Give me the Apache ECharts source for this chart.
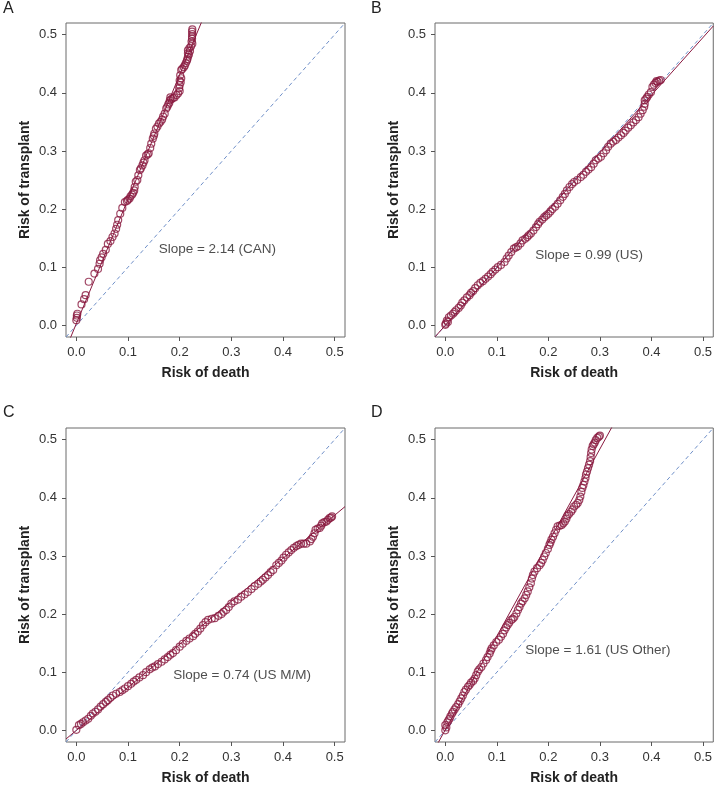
<!DOCTYPE html>
<html><head><meta charset="utf-8">
<script src="https://cdn.jsdelivr.net/npm/echarts@6/dist/echarts.min.js"></script>
<style>html,body{margin:0;padding:0;background:#fff}#c{width:715px;height:786px}</style>
</head><body><div id="c"></div>
<script>
// ---- data (risk of death, risk of transplant) ----
const panelLetters = ['A','B','C','D'];
const slopeLabels = ['Slope = 2.14 (CAN)','Slope = 0.99 (US)','Slope = 0.74 (US M/M)','Slope = 1.61 (US Other)'];
const fitSlopes = [2.14, 0.99, 0.74, 1.61];
const fitIntercepts = [0.003, 0.0, 0.0, 0.001];
const labelPos = [[0.273,0.131],[0.279,0.12],[0.321,0.095],[0.296,0.138]];
const tickValues = [0, 0.1, 0.2, 0.3, 0.4, 0.5];

const pointsA = [[0,0.009],[0.001,0.013],[0.001,0.017],[0.002,0.02],[0.01,0.036],[0.015,0.045],[0.018,0.052],[0.024,0.075],
[0.035,0.089],[0.042,0.097],[0.045,0.106],[0.046,0.112],[0.049,0.117],[0.052,0.123],[0.057,0.13],[0.061,0.14],[0.066,0.145],
[0.07,0.152],[0.074,0.158],[0.077,0.166],[0.079,0.173],[0.081,0.181],[0.085,0.192],[0.089,0.202],[0.094,0.212],[0.098,0.214],[0.1,0.216],
[0.103,0.218],[0.105,0.222],[0.108,0.225],[0.11,0.228],[0.112,0.232],[0.113,0.238],[0.115,0.247],[0.118,0.25],[0.12,0.258],[0.123,0.267],
[0.125,0.27],[0.128,0.275],[0.13,0.28],[0.132,0.284],[0.135,0.292],[0.138,0.294],[0.14,0.296],[0.143,0.305],
[0.145,0.3125],[0.148,0.321],[0.15,0.326],[0.151,0.33],[0.154,0.338],[0.157,0.342],[0.16,0.347],[0.163,0.35],[0.166,0.354],[0.168,0.359],
[0.171,0.364],[0.174,0.373],[0.176,0.376],[0.178,0.38],[0.18,0.383],[0.181,0.387],[0.182,0.392],[0.184,0.389],
[0.187,0.391],[0.19,0.392],[0.194,0.396],[0.197,0.399],[0.2,0.403],[0.199,0.408],[0.2,0.413],[0.202,0.418],[0.2,0.421],[0.203,0.425],[0.201,0.43],
[0.203,0.439],[0.205,0.441],[0.208,0.444],[0.21,0.447],[0.212,0.451],[0.214,0.455],[0.215,0.458],
[0.216,0.462],[0.218,0.466],[0.216,0.468],[0.22,0.472],[0.216,0.473],[0.219,0.477],[0.222,0.48],[0.2245,0.4845],[0.223,0.488],[0.224,0.493],
[0.224,0.497],[0.2245,0.501],[0.224,0.505],[0.2245,0.509]];

const pointsB = [[0,0.001],[0.001,0.003],[0.003,0.008],[0.005,0.006],[0.007,0.014],[0.011,0.017],[0.015,0.02],[0.018,0.023],[0.021,0.026],
[0.026,0.03],[0.03,0.034],[0.033,0.039],[0.037,0.043],[0.042,0.048],[0.047,0.052],[0.05,0.056],
[0.054,0.059],[0.058,0.064],[0.063,0.069],[0.068,0.073],[0.073,0.076],[0.078,0.08],[0.083,0.084],[0.088,0.088],[0.092,0.092],[0.097,0.096],
[0.102,0.1],[0.108,0.104],[0.115,0.109],[0.119,0.115],[0.123,0.12],[0.128,0.126],[0.133,0.132],[0.137,0.134],[0.141,0.136],[0.146,0.141],
[0.15,0.146],[0.155,0.149],[0.159,0.152],[0.162,0.155],[0.166,0.158],[0.171,0.163],[0.176,0.169],[0.18,0.174],[0.183,0.178],[0.188,0.182],
[0.192,0.186],[0.196,0.189],[0.2,0.192],[0.204,0.196],[0.208,0.2],[0.213,0.204],[0.218,0.209],[0.223,0.215],[0.228,0.221],
[0.232,0.226],[0.236,0.232],[0.241,0.238],[0.246,0.243],[0.25,0.2466],[0.256,0.25],[0.263,0.255],[0.268,0.259],[0.273,0.264],[0.278,0.268],
[0.283,0.272],[0.288,0.278],[0.292,0.284],[0.297,0.287],[0.302,0.29],[0.307,0.296],[0.312,0.301],[0.316,0.307],[0.321,0.3125],[0.326,0.316],
[0.331,0.319],[0.336,0.323],[0.341,0.327],[0.346,0.331],[0.35,0.335],[0.355,0.34],[0.36,0.344],[0.365,0.349],[0.37,0.353],[0.375,0.358],
[0.379,0.364],[0.383,0.37],[0.386,0.376],[0.387,0.381],[0.387,0.387],[0.39,0.39],[0.392,0.393],[0.395,0.397],
[0.399,0.401],[0.402,0.41],[0.405,0.414],[0.408,0.417],[0.41,0.42],[0.412,0.419],[0.415,0.421],[0.418,0.422]];

const pointsC = [[0,0.001],[0.005,0.009],[0.009,0.011],[0.013,0.014],[0.018,0.017],[0.023,0.02],[0.028,0.025],[0.032,0.029],[0.037,0.032],
[0.042,0.036],[0.047,0.041],[0.052,0.045],[0.057,0.049],[0.061,0.052],[0.066,0.056],[0.071,0.06],[0.077,0.063],
[0.084,0.066],[0.089,0.069],[0.094,0.072],[0.1,0.076],[0.106,0.08],[0.111,0.084],[0.116,0.087],[0.122,0.091],[0.129,0.095],[0.135,0.1],
[0.142,0.105],[0.147,0.108],[0.152,0.11],[0.158,0.114],[0.165,0.118],[0.171,0.122],[0.177,0.126],[0.182,0.13],[0.187,0.133],[0.193,0.138],
[0.2,0.144],[0.206,0.149],[0.213,0.154],[0.219,0.158],[0.226,0.162],[0.23,0.166],[0.235,0.17],[0.24,0.175],[0.245,0.181],[0.25,0.186],
[0.255,0.19],[0.262,0.192],[0.268,0.193],[0.275,0.197],[0.281,0.2],[0.285,0.204],[0.29,0.207],[0.295,0.212],[0.3,0.218],[0.306,0.222],
[0.313,0.225],[0.319,0.23],[0.326,0.234],[0.332,0.238],[0.339,0.243],[0.345,0.248],[0.352,0.252],[0.357,0.256],[0.361,0.259],[0.366,0.263],
[0.371,0.267],[0.376,0.272],[0.381,0.276],[0.387,0.284],[0.392,0.288],[0.397,0.292],[0.401,0.297],[0.406,0.302],
[0.411,0.306],[0.416,0.31],[0.421,0.314],[0.426,0.317],[0.43,0.319],[0.435,0.321],[0.44,0.321],[0.445,0.321],[0.452,0.325],[0.455,0.329],
[0.458,0.333],[0.461,0.339],[0.463,0.345],[0.467,0.347],[0.471,0.348],[0.474,0.352],[0.476,0.356],[0.48,0.358],[0.484,0.359],
[0.487,0.362],[0.49,0.365],[0.493,0.366],[0.495,0.368]];

const pointsD = [[0,0],[0.002,0.005],[0,0.009],[0.004,0.014],[0.006,0.017],[0.008,0.02],[0.01,0.024],[0.013,0.029],[0.015,0.032],[0.018,0.036],
[0.021,0.04],[0.025,0.045],[0.028,0.05],[0.031,0.055],[0.034,0.06],[0.037,0.066],[0.04,0.07],
[0.044,0.075],[0.047,0.078],[0.05,0.082],[0.054,0.085],[0.057,0.089],[0.06,0.095],[0.063,0.101],[0.066,0.105],[0.07,0.109],[0.074,0.115],
[0.079,0.121],[0.082,0.126],[0.086,0.132],[0.088,0.137],[0.09,0.141],[0.094,0.146],[0.099,0.152],[0.104,0.156],[0.108,0.161],[0.112,0.166],
[0.115,0.172],[0.118,0.177],[0.121,0.181],[0.124,0.185],[0.128,0.19],[0.131,0.192],[0.134,0.195],[0.138,0.201],[0.141,0.207],[0.144,0.212],
[0.147,0.218],[0.15,0.222],[0.154,0.227],[0.157,0.233],[0.16,0.239],[0.163,0.246],[0.166,0.253],[0.168,0.261],[0.17,0.267],
[0.173,0.273],[0.178,0.279],[0.183,0.284],[0.186,0.288],[0.189,0.293],[0.192,0.299],[0.195,0.305],[0.199,0.312],[0.202,0.319],[0.204,0.323],
[0.206,0.328],[0.209,0.333],[0.212,0.339],[0.215,0.345],[0.218,0.351],[0.222,0.352],[0.226,0.353],[0.229,0.356],[0.232,0.359],[0.235,0.364],
[0.237,0.369],[0.24,0.372],[0.244,0.376],[0.247,0.38],[0.25,0.385],[0.254,0.388],[0.257,0.391],[0.26,0.396],[0.262,0.402],[0.264,0.41],
[0.266,0.417],[0.268,0.422],[0.27,0.428],[0.272,0.434],[0.273,0.44],[0.275,0.445],[0.277,0.451],[0.279,0.457],[0.281,0.463],[0.282,0.47],
[0.283,0.477],[0.284,0.483],[0.286,0.489],[0.288,0.492],[0.29,0.495],[0.292,0.499],[0.295,0.503],[0.298,0.505],[0.3,0.507]];

const allPoints = [pointsA, pointsB, pointsC, pointsD];
const axisMin = -0.02, axisMax = 0.52;

// ---- layout ----
const grids = [
  {left:66, top:23, width:279, height:314},
  {left:435, top:23, width:279, height:314},
  {left:66, top:428, width:279, height:314},
  {left:435, top:428, width:279, height:314}
];
const FONT = '"Liberation Sans", Arial, Helvetica, sans-serif';
const RED = '#8a1a40';
const BLUE = '#6f8fc8';

const option = {
  animation: false,
  backgroundColor: '#fff',
  textStyle: {fontFamily: FONT},
  grid: grids.map(g => Object.assign({show:true, borderColor:'#6a6a6a', borderWidth:1, backgroundColor:'transparent'}, g)),
  xAxis: grids.map((g,i) => ({
    gridIndex:i, type:'value', min:axisMin, max:axisMax,
    name:'Risk of death', nameLocation:'middle', nameGap:29, nameMoveOverlap:false,
    nameTextStyle:{fontFamily:FONT, fontWeight:'bold', fontSize:14, color:'#222'},
    axisLine:{show:false, onZero:false},
    axisTick:{show:true, inside:false, length:4, customValues:tickValues, lineStyle:{color:'#555'}},
    axisLabel:{show:true, margin:9, fontSize:13, color:'#333', fontFamily:FONT, customValues:tickValues,
      formatter: v => v.toFixed(1)},
    splitLine:{show:false}
  })),
  yAxis: grids.map((g,i) => ({
    gridIndex:i, type:'value', min:axisMin, max:axisMax,
    name:'Risk of transplant', nameLocation:'middle', nameGap:34, nameMoveOverlap:false,
    nameTextStyle:{fontFamily:FONT, fontWeight:'bold', fontSize:14, color:'#222'},
    axisLine:{show:false, onZero:false},
    axisTick:{show:true, inside:false, length:4, customValues:tickValues, lineStyle:{color:'#555'}},
    axisLabel:{show:true, margin:9, fontSize:13, color:'#333', fontFamily:FONT, customValues:tickValues,
      formatter: v => v.toFixed(1)},
    splitLine:{show:false}
  })),
  graphic: [],
  series: []
};

const letterPos = [[3,10],[371,10],[3,414],[371,414]];
panelLetters.forEach((L,i) => {
  option.graphic.push({type:'text', left:letterPos[i][0], top:letterPos[i][1]-9,
    style:{text:L, fontFamily:FONT, fontSize:16, fill:'#222'}});
});

for (let i = 0; i < 4; i++) {
  option.series.push({
    type:'line', xAxisIndex:i, yAxisIndex:i, data:[[axisMin,axisMin],[axisMax,axisMax]],
    showSymbol:false, symbol:'none', clip:true, silent:true,
    lineStyle:{color:BLUE, width:1, type:[4,3]}, z:1
  });
  const s = fitSlopes[i], b = fitIntercepts[i];
  option.series.push({
    type:'line', xAxisIndex:i, yAxisIndex:i,
    data:[[axisMin, s*axisMin + b],[axisMax, s*axisMax + b]],
    showSymbol:false, symbol:'none', clip:true, silent:true,
    lineStyle:{color:RED, width:1}, z:2
  });
  option.series.push({
    type:'scatter', xAxisIndex:i, yAxisIndex:i, data:allPoints[i],
    symbol:'circle', symbolSize:7, clip:false,
    itemStyle:{color:'rgba(255,255,255,0)', borderColor:RED, borderWidth:1.2}, z:3
  });
  option.series.push({
    type:'scatter', xAxisIndex:i, yAxisIndex:i, data:[labelPos[i]],
    symbolSize:0, silent:true,
    label:{show:true, position:'inside', formatter:slopeLabels[i], fontFamily:FONT, fontSize:13.5, color:'#222'}, z:4
  });
}

const chart = echarts.init(document.getElementById('c'), null, {renderer:'canvas'});
chart.setOption(option);
</script>
</body></html>
